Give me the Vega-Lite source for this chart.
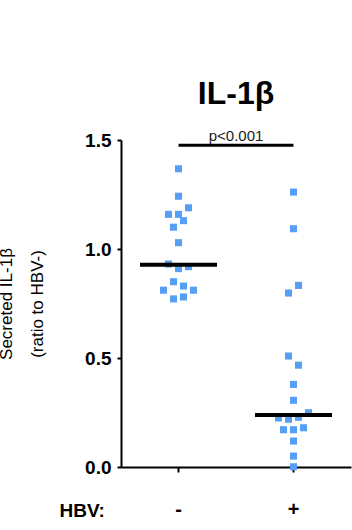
{
  "$schema": "https://vega.github.io/schema/vega-lite/v6.json",
  "width": 230,
  "height": 327,
  "autosize": "none",
  "padding": {"left": 121, "top": 140, "right": 1, "bottom": 63},
  "background": "white",
  "config": {
    "view": {"stroke": null},
    "font": "Liberation Sans",
    "axis": {
      "grid": false,
      "domainColor": "black",
      "tickColor": "black",
      "domainWidth": 2,
      "tickWidth": 2,
      "labelColor": "black",
      "titleColor": "black",
      "labelFont": "Liberation Sans",
      "titleFont": "Liberation Sans"
    }
  },
  "title": {
    "text": "IL-1β",
    "fontSize": 32,
    "fontWeight": "bold",
    "font": "Liberation Sans",
    "color": "black",
    "anchor": "middle",
    "baseline": "alphabetic",
    "offset": -7
  },
  "datasets": {
    "cells": [
      {"HBV": "-", "ratio": 1.368, "col": 0},
      {"HBV": "-", "ratio": 1.242, "col": 0},
      {"HBV": "-", "ratio": 1.189, "col": 2},
      {"HBV": "-", "ratio": 1.159, "col": -2},
      {"HBV": "-", "ratio": 1.159, "col": 0},
      {"HBV": "-", "ratio": 1.130, "col": 1},
      {"HBV": "-", "ratio": 1.100, "col": -1},
      {"HBV": "-", "ratio": 1.029, "col": 0},
      {"HBV": "-", "ratio": 0.931, "col": -2},
      {"HBV": "-", "ratio": 0.919, "col": 2},
      {"HBV": "-", "ratio": 0.910, "col": 0},
      {"HBV": "-", "ratio": 0.850, "col": -1},
      {"HBV": "-", "ratio": 0.830, "col": 1},
      {"HBV": "-", "ratio": 0.811, "col": -3},
      {"HBV": "-", "ratio": 0.811, "col": 3},
      {"HBV": "-", "ratio": 0.780, "col": 1},
      {"HBV": "-", "ratio": 0.771, "col": -1},
      {"HBV": "+", "ratio": 1.261, "col": 0},
      {"HBV": "+", "ratio": 1.093, "col": 0},
      {"HBV": "+", "ratio": 0.833, "col": 1},
      {"HBV": "+", "ratio": 0.798, "col": -1},
      {"HBV": "+", "ratio": 0.509, "col": -1},
      {"HBV": "+", "ratio": 0.467, "col": 1},
      {"HBV": "+", "ratio": 0.379, "col": 0},
      {"HBV": "+", "ratio": 0.306, "col": 0},
      {"HBV": "+", "ratio": 0.249, "col": 3},
      {"HBV": "+", "ratio": 0.228, "col": 1},
      {"HBV": "+", "ratio": 0.225, "col": -3},
      {"HBV": "+", "ratio": 0.219, "col": -1},
      {"HBV": "+", "ratio": 0.180, "col": 2},
      {"HBV": "+", "ratio": 0.171, "col": -2},
      {"HBV": "+", "ratio": 0.171, "col": 0},
      {"HBV": "+", "ratio": 0.119, "col": 0},
      {"HBV": "+", "ratio": 0.050, "col": 0},
      {"HBV": "+", "ratio": 0.001, "col": 0}
    ],
    "medians": [
      {"HBV": "-", "ratio": 0.928},
      {"HBV": "+", "ratio": 0.239}
    ],
    "bracket": [
      {"HBV": "-", "ratio": 1.476},
      {"HBV": "+", "ratio": 1.476}
    ],
    "pvalue": [
      {"label": "p<0.001", "ratio": 1.495}
    ]
  },
  "layer": [
    {
      "data": {"name": "cells"},
      "mark": {"type": "square", "size": 50, "color": "#579ef5", "opacity": 1},
      "encoding": {
        "x": {
          "field": "HBV",
          "type": "nominal",
          "sort": ["-", "+"],
          "scale": {"domain": ["-", "+"], "paddingInner": 0, "paddingOuter": 0},
          "axis": {
            "title": "HBV:",
            "titleFontSize": 19,
            "titleFontWeight": "bold",
            "titleAnchor": "start",
            "titleAlign": "left",
            "titleBaseline": "middle",
            "titleX": -62,
            "titleY": 43,
            "labelAngle": 0,
            "labelFontSize": 20,
            "labelFontWeight": "bold",
            "labelBaseline": "middle",
            "labelPadding": 37,
            "tickSize": 5
          }
        },
        "xOffset": {
          "field": "col",
          "type": "quantitative",
          "scale": {"domain": [-11.5, 11.5]}
        },
        "y": {
          "field": "ratio",
          "type": "quantitative",
          "scale": {"domain": [0, 1.5], "nice": false},
          "axis": {
            "title": ["Secreted IL-1β", "(ratio to HBV-)"],
            "titleFontSize": 17,
            "titleFontWeight": "normal",
            "titleLineHeight": 31,
            "titleAngle": -90,
            "titleAlign": "center",
            "titleBaseline": "alphabetic",
            "titleX": -110,
            "titleY": 163.5,
            "values": [0, 0.5, 1, 1.5],
            "format": ".1f",
            "labelFontSize": 19,
            "labelFontWeight": "bold",
            "labelPadding": 6,
            "tickSize": 4
          }
        }
      }
    },
    {
      "data": {"name": "medians"},
      "mark": {"type": "tick", "size": 77, "thickness": 4, "color": "black", "opacity": 1},
      "encoding": {
        "x": {"field": "HBV", "type": "nominal"},
        "y": {"field": "ratio", "type": "quantitative"}
      }
    },
    {
      "data": {"name": "bracket"},
      "mark": {"type": "line", "color": "black", "strokeWidth": 3},
      "encoding": {
        "x": {"field": "HBV", "type": "nominal"},
        "y": {"field": "ratio", "type": "quantitative"}
      }
    },
    {
      "data": {"name": "pvalue"},
      "mark": {"type": "text", "fontSize": 15, "color": "#1a1a1a", "baseline": "alphabetic", "align": "center"},
      "encoding": {
        "text": {"field": "label"},
        "y": {"field": "ratio", "type": "quantitative"}
      }
    }
  ]
}
